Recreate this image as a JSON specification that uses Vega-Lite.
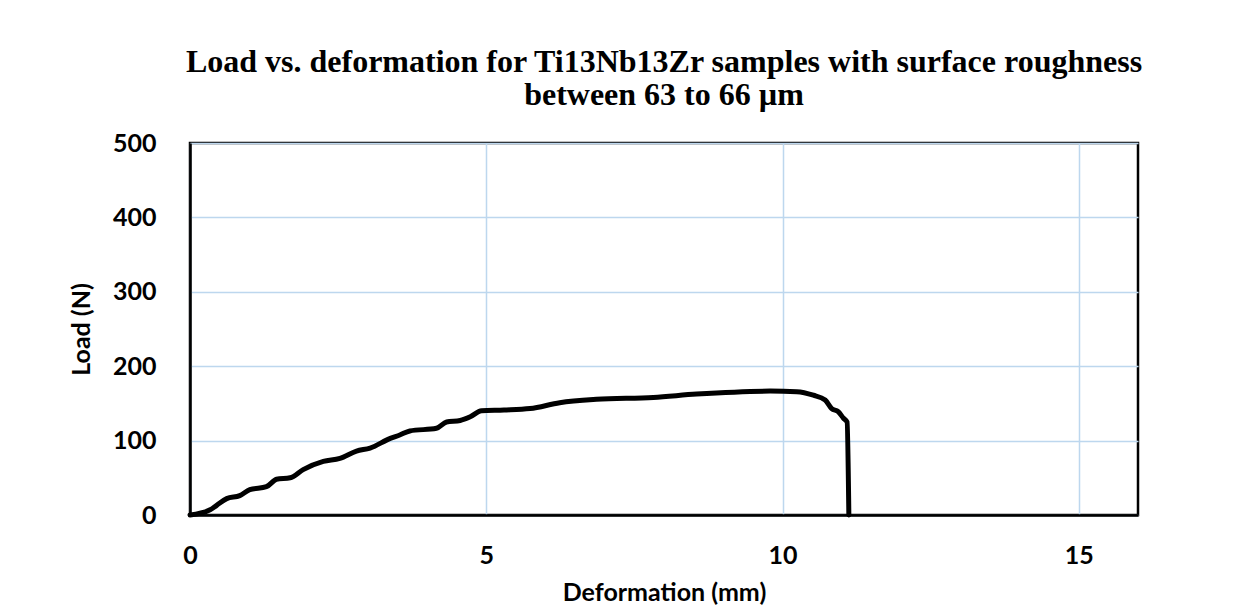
{
  "$schema": "https://vega.github.io/schema/vega-lite/v6.json",
  "width": 948,
  "height": 372,
  "autosize": {"type": "none"},
  "padding": {"left": 190, "top": 143, "right": 112, "bottom": 99},
  "background": "white",
  "title": {
    "text": ["Load vs. deformation for Ti13Nb13Zr samples with surface roughness", "between 63 to 66 µm"],
    "font": "Liberation Serif",
    "fontSize": 32,
    "fontWeight": "bold",
    "color": "black",
    "anchor": "middle",
    "lineHeight": 33,
    "offset": 19
  },
  "data": {
    "values": [
      {"d": 0, "load": 0},
      {"d": 0.34, "load": 7},
      {"d": 0.45, "load": 13},
      {"d": 0.62, "load": 22},
      {"d": 0.84, "load": 26},
      {"d": 1.01, "load": 34},
      {"d": 1.29, "load": 38},
      {"d": 1.46, "load": 48},
      {"d": 1.69, "load": 50},
      {"d": 1.91, "load": 61},
      {"d": 2.25, "load": 72},
      {"d": 2.53, "load": 76},
      {"d": 2.81, "load": 86},
      {"d": 3.04, "load": 90},
      {"d": 3.38, "load": 103},
      {"d": 3.54, "load": 107.5},
      {"d": 3.71, "load": 113},
      {"d": 4.16, "load": 116.5},
      {"d": 4.33, "load": 125},
      {"d": 4.56, "load": 127},
      {"d": 4.73, "load": 132},
      {"d": 4.92, "load": 140},
      {"d": 5.3, "load": 141},
      {"d": 5.74, "load": 143},
      {"d": 6.24, "load": 151},
      {"d": 6.86, "load": 155.5},
      {"d": 7.82, "load": 158},
      {"d": 8.55, "load": 162.5},
      {"d": 9.79, "load": 166.5},
      {"d": 10.24, "load": 165.7},
      {"d": 10.52, "load": 161},
      {"d": 10.72, "load": 154.6},
      {"d": 10.83, "load": 143},
      {"d": 10.94, "load": 139},
      {"d": 11.03, "load": 130},
      {"d": 11.09, "load": 125},
      {"d": 11.12, "load": 0}
    ]
  },
  "mark": {"type": "line", "color": "black", "strokeWidth": 5, "interpolate": "monotone", "strokeCap": "round", "strokeJoin": "round"},
  "encoding": {
    "x": {
      "field": "d", "type": "quantitative",
      "scale": {"domain": [0, 16], "nice": false, "zero": false},
      "axis": {"title": "Deformation (mm)", "values": [0, 5, 10, 15], "format": "d", "labelFlush": false}
    },
    "y": {
      "field": "load", "type": "quantitative",
      "scale": {"domain": [0, 500], "nice": false},
      "axis": {"title": "Load (N)", "values": [0, 100, 200, 300, 400, 500], "format": "d", "titlePadding": 18, "labelFlush": false}
    }
  },
  "config": {
    "view": {"stroke": "black", "strokeWidth": 2.5},
    "axis": {
      "labelFont": "Lato",
      "labelFontSize": 25,
      "labelFontWeight": "bold",
      "labelColor": "black",
      "titleFont": "Lato",
      "titleFontSize": 25,
      "titleFontWeight": "bold",
      "titleColor": "black",
      "ticks": false,
      "domainColor": "black",
      "domainWidth": 2.5,
      "gridColor": "#BDD7EE",
      "gridWidth": 1.5,
      "gridOpacity": 1
    },
    "axisX": {"labelPadding": 28, "titlePadding": 12},
    "axisY": {"labelPadding": 34}
  }
}
